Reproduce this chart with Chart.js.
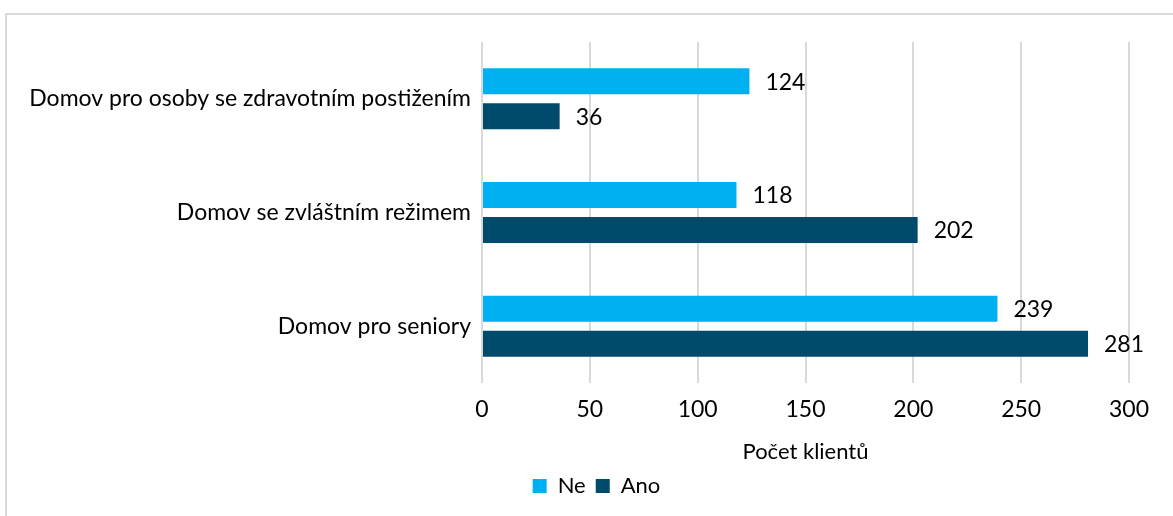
<!DOCTYPE html>
<html>
<head>
<meta charset="utf-8">
<script src="https://cdn.jsdelivr.net/npm/chart.js@4/dist/chart.umd.min.js"></script>
<style>
    html, body { margin: 0; padding: 0; background: #fff; overflow: hidden; }
    .frame { position: absolute; left: 5px; top: 13px; width: 1300px; height: 700px; border: 2px solid #D9D9D9; }
    .wrap { position: absolute; left: 0; top: 0; width: 1173px; height: 516px; }
</style>
</head>
<body>
<div class="frame"></div>
<div class="wrap"><canvas id="chart"></canvas></div>
<script>
const categories = ['Domov pro osoby se zdravotním postižením', 'Domov se zvláštním režimem', 'Domov pro seniory'];
const seriesNe = [124, 118, 239];
const seriesAno = [36, 202, 281];
const axisMin = 0;
const axisMax = 300;
const axisStep = 50;
const axisTitle = 'Počet klientů';

document.addEventListener('DOMContentLoaded', function() {
    const fontFamily = "Lato, 'Open Sans', sans-serif";

    // value labels to the right of each bar
    const valueLabels = {
        id: 'valueLabels',
        afterDatasetsDraw(chart) {
            const ctx = chart.ctx;
            ctx.save();
            ctx.font = '23px ' + fontFamily;
            ctx.fillStyle = '#000';
            ctx.textAlign = 'left';
            ctx.textBaseline = 'middle';
            chart.data.datasets.forEach((ds, i) => {
                chart.getDatasetMeta(i).data.forEach((bar, j) => {
                    ctx.fillText(ds.data[j], bar.x + 16, bar.y + 1);
                });
            });
            ctx.restore();
        }
    };

    // nudge the legend right so it sits where the original has it
    const legendShift = {
        id: 'legendShift',
        afterLayout(chart) {
            if (chart.legend) {
                chart.legend.left += 32;
                chart.legend.right += 32;
            }
        }
    };

    const ctx = document.getElementById('chart').getContext('2d');
    new Chart(ctx, {
        type: 'bar',
        data: {
            labels: categories,
            datasets: [
                { label: 'Ne', data: seriesNe, backgroundColor: '#00B0F0' },
                { label: 'Ano', data: seriesAno, backgroundColor: '#004B6C' }
            ]
        },
        options: {
            indexAxis: 'y',
            responsive: true,
            maintainAspectRatio: false,
            animation: false,
            categoryPercentage: 0.616,
            barPercentage: 0.743,
            layout: { padding: { top: 42, right: 44, left: 0, bottom: 9 } },
            scales: {
                x: {
                    min: axisMin,
                    max: axisMax,
                    ticks: {
                        stepSize: axisStep,
                        padding: 13,
                        color: '#000',
                        font: { family: fontFamily, size: 23 }
                    },
                    grid: { color: '#D9D9D9', lineWidth: 2, drawTicks: false },
                    border: { display: false },
                    title: {
                        display: true,
                        text: axisTitle,
                        color: '#000',
                        font: { family: fontFamily, size: 22 },
                        padding: { top: 2, bottom: 0 }
                    }
                },
                y: {
                    ticks: {
                        padding: 11,
                        color: '#000',
                        font: { family: fontFamily, size: 23 }
                    },
                    grid: { display: false, drawTicks: false },
                    border: { display: false },
                    afterFit: function(scale) { scale.width = 482; }
                }
            },
            plugins: {
                legend: {
                    position: 'bottom',
                    labels: {
                        boxWidth: 14,
                        boxHeight: 14,
                        padding: 10,
                        color: '#000',
                        font: { family: fontFamily, size: 22 }
                    }
                },
                tooltip: { enabled: false }
            }
        },
        plugins: [valueLabels, legendShift]
    });
});
</script>
</body>
</html>
